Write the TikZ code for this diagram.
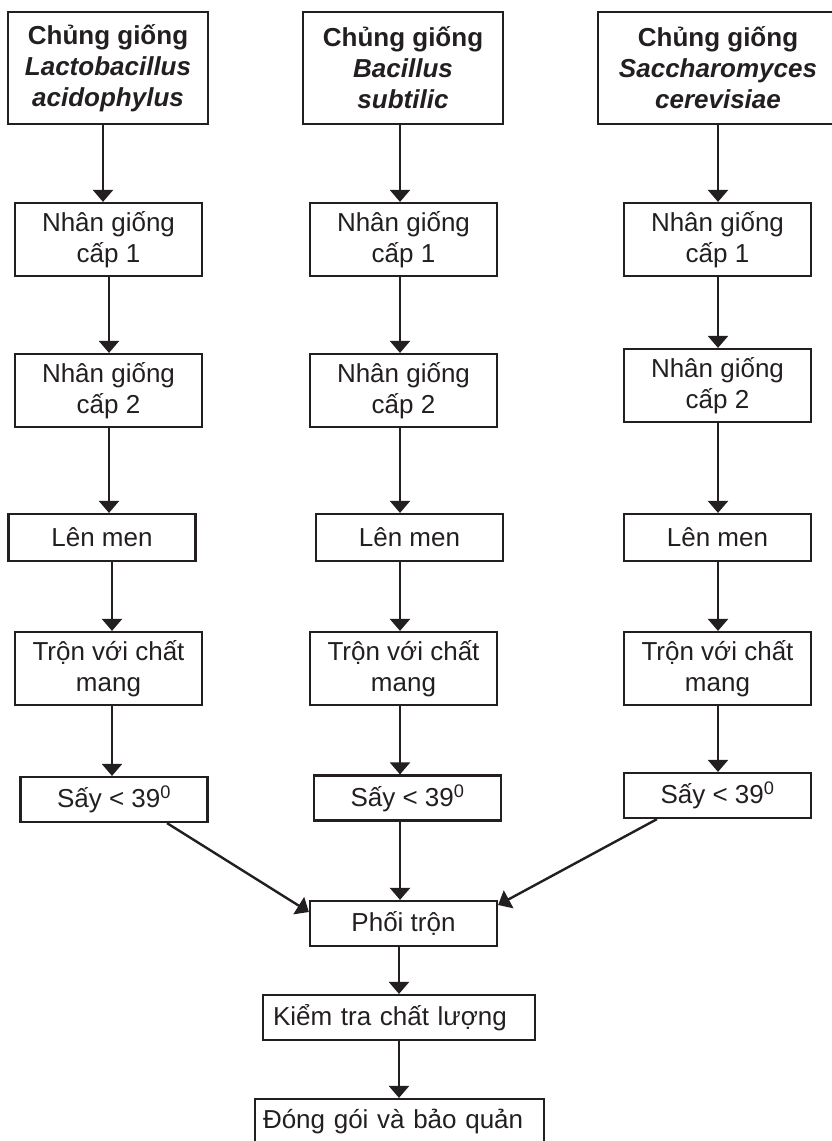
\documentclass[tikz,border=0pt]{standalone}
\usepackage{fontspec}
\setmainfont{Liberation Sans}
\usetikzlibrary{arrows.meta,calc}
\definecolor{ink}{HTML}{231F20}

\begin{document}
\begin{tikzpicture}[x=1pt,y=-1pt,
  every node/.style={font=\fontsize{26}{31}\selectfont, text=ink},
  box/.style={draw=ink, line width=2.2pt, align=center, inner sep=0pt},
  strain/.style={box, minimum height=112pt, font=\fontsize{26}{31}\selectfont\bfseries},
  twoline/.style={box, minimum width=187pt, minimum height=73pt},
  oneline/.style={box, minimum width=187pt, minimum height=46pt},
  arr/.style={draw=ink, line width=2.4pt, -{Triangle[width=20pt,length=12pt]}}]

\useasboundingbox (0,0) rectangle (831,1141);

% strain boxes
\node[strain, minimum width=200pt] (t1) at (108,68) {Chủng giống\\{\itshape Lactobacillus}\\{\itshape acidophylus}};
\node[strain, minimum width=200pt] (t2) at (403,68) {Chủng giống\\{\itshape Bacillus}\\{\itshape subtilic}};
\node[strain, minimum width=240pt] (t3) at (718,68) {Chủng giống\\{\itshape Saccharomyces}\\{\itshape cerevisiae}};

% first-level propagation
\node[twoline] (a1) at (108.5,239.5) {Nhân giống\\cấp 1};
\node[twoline] (a2) at (403.5,239.5) {Nhân giống\\cấp 1};
\node[twoline] (a3) at (717.5,239.5) {Nhân giống\\cấp 1};

% second-level propagation
\node[twoline] (b1) at (108.5,390.5) {Nhân giống\\cấp 2};
\node[twoline] (b2) at (403.5,390.5) {Nhân giống\\cấp 2};
\node[twoline] (b3) at (717.5,385.5) {Nhân giống\\cấp 2};

% fermentation
\node[oneline, minimum height=47pt] (c1) at (102,537.5) {Lên men};
\node[oneline, minimum height=47pt] (c2) at (409.5,537.5) {Lên men};
\node[oneline, minimum height=47pt] (c3) at (717.5,537.5) {Lên men};

% mixing with carrier
\node[twoline] (d1) at (108.5,668.5) {Trộn với chất\\mang};
\node[twoline] (d2) at (403.5,668.5) {Trộn với chất\\mang};
\node[twoline] (d3) at (717.5,668.5) {Trộn với chất\\mang};

% drying
\node[oneline, minimum height=45pt] (e1) at (114,799.5) {Sấy < 39\textsuperscript{0}};
\node[oneline, minimum height=45pt] (e2) at (407.5,798) {Sấy < 39\textsuperscript{0}};
\node[oneline, minimum height=45pt] (e3) at (717.5,795.5) {Sấy < 39\textsuperscript{0}};

% final steps
\node[oneline, minimum height=45pt] (p) at (403.5,923.5) {Phối trộn};
\node[box, minimum width=272pt, minimum height=45pt, text width=252pt, align=left] (q) at (399,1017.5) {Kiểm tra chất lượng};
\node[box, minimum width=289pt, minimum height=45pt, text width=273pt, align=left] (r) at (399.5,1121.5) {Đóng gói và bảo quản};

% column 1 flow
\draw[arr] (t1.south -| 103,0) -- (a1.north -| 103,0);
\draw[arr] (a1.south -| 109,0) -- (b1.north -| 109,0);
\draw[arr] (b1.south -| 109,0) -- (c1.north -| 109,0);
\draw[arr] (c1.south -| 112,0) -- (d1.north -| 112,0);
\draw[arr] (d1.south -| 112,0) -- (e1.north -| 112,0);

% column 2 flow
\draw[arr] (t2.south -| 400,0) -- (a2.north -| 400,0);
\draw[arr] (a2.south -| 400,0) -- (b2.north -| 400,0);
\draw[arr] (b2.south -| 400,0) -- (c2.north -| 400,0);
\draw[arr] (c2.south -| 400,0) -- (d2.north -| 400,0);
\draw[arr] (d2.south -| 400,0) -- (e2.north -| 400,0);

% column 3 flow
\draw[arr] (t3.south -| 718,0) -- (a3.north -| 718,0);
\draw[arr] (a3.south -| 718,0) -- (b3.north -| 718,0);
\draw[arr] (b3.south -| 718,0) -- (c3.north -| 718,0);
\draw[arr] (c3.south -| 718,0) -- (d3.north -| 718,0);
\draw[arr] (d3.south -| 718,0) -- (e3.north -| 718,0);

% merging
\draw[arr] (e1.south -| 167,0) -- (p.west |- 0,912);
\draw[arr] (e2.south -| 400,0) -- (p.north -| 400,0);
\draw[arr] (e3.south -| 657,0) -- (p.east |- 0,905);
\draw[arr] (p.south -| 399,0) -- (q.north -| 399,0);
\draw[arr] (q.south -| 399,0) -- (r.north -| 399,0);
\end{tikzpicture}
\end{document}
